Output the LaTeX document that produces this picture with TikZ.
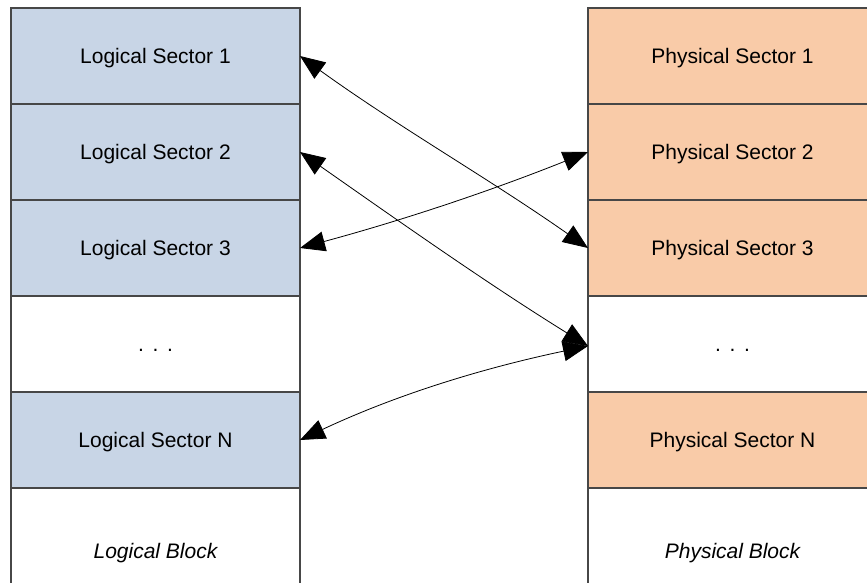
\documentclass[tikz,border=0pt]{standalone}
\usepackage{fontspec}
\setmainfont{Liberation Sans}
\usetikzlibrary{arrows.meta}
\definecolor{logfill}{HTML}{C8D5E6}
\definecolor{physfill}{HTML}{F9CBA8}
\definecolor{cellline}{HTML}{474747}
\tikzset{
  cell/.style={draw=cellline, line width=1.2pt, minimum width=289pt,
    minimum height=96pt, inner sep=0pt, outer sep=0pt,
    font=\fontsize{21}{25}\selectfont, text height=15pt, text depth=0pt},
  logcell/.style={cell, fill=logfill},
  physcell/.style={cell, fill=physfill},
  blankcell/.style={cell, fill=white},
  blocklabel/.style={font=\fontsize{21}{25}\selectfont\itshape, inner sep=0pt,
    text height=15pt, text depth=0pt},
  map/.style={line width=0.8pt, {Triangle[length=25pt,width=20pt]}-{Triangle[length=25pt,width=20pt]}}
}
\newcommand{\ellipsisdots}{.\hspace{8.6pt}.\hspace{8.6pt}.}
\begin{document}
\begin{tikzpicture}[x=1pt,y=-1pt]
  \useasboundingbox (0,0) rectangle (867,582);
  \clip (0,0) rectangle (867,582);
  \fill[white] (0,0) rectangle (867,582);

  % logical block column
  \node[logcell]   (l1)    at (155.5,56)  {Logical Sector 1};
  \node[logcell]   (l2)    at (155.5,152) {Logical Sector 2};
  \node[logcell]   (l3)    at (155.5,248) {Logical Sector 3};
  \node[blankcell] (ldots) at (155.5,344) {\ellipsisdots};
  \node[logcell]   (lN)    at (155.5,440) {Logical Sector N};
  \node[blankcell] (lblk)  at (155.5,536) {};
  \node[blocklabel] (lbl)  at (155.5,551) {Logical Block};

  % physical block column
  \node[physcell]  (p1)    at (732.5,56)  {Physical Sector 1};
  \node[physcell]  (p2)    at (732.5,152) {Physical Sector 2};
  \node[physcell]  (p3)    at (732.5,248) {Physical Sector 3};
  \node[blankcell] (pdots) at (732.5,344) {\ellipsisdots};
  \node[physcell]  (pN)    at (732.5,440) {Physical Sector N};
  \node[blankcell] (pblk)  at (732.5,536) {};
  \node[blocklabel] (pbl)  at (732.5,551) {Physical Block};

  % sector mapping
  \draw[map] (l1.east) .. controls +(100,72) and +(-100,-70) .. (p3.west);
  \draw[map] (l2.east) .. controls +(100,70) and +(-100,-62) .. ([yshift=-2pt]pdots.west);
  \draw[map] (l3.east) .. controls +(100,-27) and +(-100,40) .. (p2.west);
  \draw[map] (lN.east) .. controls +(100,-47) and +(-100,21) .. ([yshift=-2pt]pdots.west);
\end{tikzpicture}
\end{document}
